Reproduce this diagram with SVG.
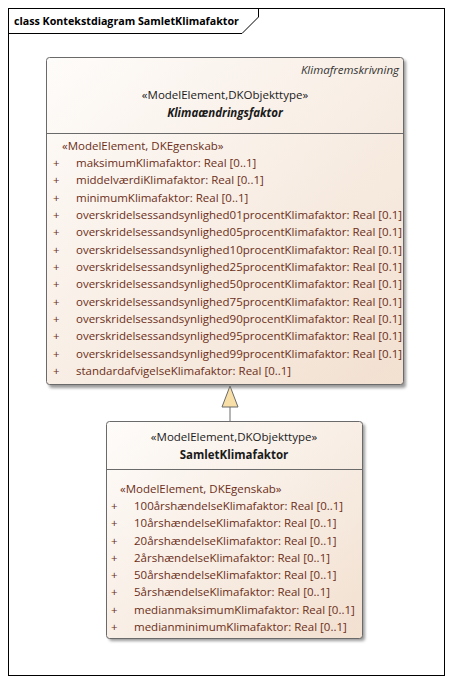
<svg xmlns="http://www.w3.org/2000/svg" width="452" height="684" viewBox="0 0 452 684">
<defs>
<linearGradient id="g" x1="0" y1="0" x2="1" y2="1">
<stop offset="0" stop-color="#fefcfa"/>
<stop offset="1" stop-color="#f2e0d0"/>
</linearGradient>
<filter id="sh" x="-5%" y="-5%" width="115%" height="115%">
<feGaussianBlur stdDeviation="1.5"/>
</filter>
</defs>
<style>
text{font-family:"Open Sans","Liberation Sans",sans-serif;font-size:11.5px}
.t{font-weight:bold;font-size:10.7px;fill:#000}
.h{fill:#1a1a1a;text-anchor:middle}
.a{fill:#6c2e18}
.box{fill:url(#g);stroke:#6a6a6a;stroke-width:1}
.shadow{fill:#9a9a9a;filter:url(#sh)}
</style>
<rect width="452" height="684" fill="#fff"/>
<g id="frame">
<rect x="8.5" y="8.5" width="436" height="667" fill="none" stroke="#000" stroke-width="1"/>
<path d="M8.5 33.5 H242 L258.5 17 V8.5" fill="none" stroke="#000" stroke-width="1"/>
<text class="t" x="14" y="25">class Kontekstdiagram SamletKlimafaktor</text>
</g>
<g id="Klimaendringsfaktor">
<rect class="shadow" x="49" y="60" width="357" height="328" rx="3"/>
<rect class="box" x="46.5" y="57.5" width="357" height="327" rx="3"/>
<line x1="46.5" y1="133.5" x2="403.5" y2="133.5" stroke="#6a6a6a"/>
<text x="399" y="74" style="font-style:italic;text-anchor:end;fill:#333">Klimafremskrivning</text>
<text class="h" x="225" y="99">«ModelElement,DKObjekttype»</text>
<text class="h" x="225" y="117" style="font-weight:bold;font-style:italic">Klimaændringsfaktor</text>
<text class="a" x="62" y="150">«ModelElement, DKEgenskab»</text>
<g class="a">
<text x="53" y="167">+</text><text x="76" y="167">maksimumKlimafaktor: Real [0..1]</text>
<text x="53" y="184">+</text><text x="76" y="184">middelværdiKlimafaktor: Real [0..1]</text>
<text x="53" y="202">+</text><text x="76" y="202">minimumKlimafaktor: Real [0..1]</text>
<text x="53" y="219">+</text><text x="76" y="219" textLength="326" lengthAdjust="spacingAndGlyphs">overskridelsessandsynlighed01procentKlimafaktor: Real [0.1]</text>
<text x="53" y="236">+</text><text x="76" y="236" textLength="326" lengthAdjust="spacingAndGlyphs">overskridelsessandsynlighed05procentKlimafaktor: Real [0.1]</text>
<text x="53" y="254">+</text><text x="76" y="254" textLength="326" lengthAdjust="spacingAndGlyphs">overskridelsessandsynlighed10procentKlimafaktor: Real [0.1]</text>
<text x="53" y="271">+</text><text x="76" y="271" textLength="326" lengthAdjust="spacingAndGlyphs">overskridelsessandsynlighed25procentKlimafaktor: Real [0.1]</text>
<text x="53" y="288">+</text><text x="76" y="288" textLength="326" lengthAdjust="spacingAndGlyphs">overskridelsessandsynlighed50procentKlimafaktor: Real [0.1]</text>
<text x="53" y="306">+</text><text x="76" y="306" textLength="326" lengthAdjust="spacingAndGlyphs">overskridelsessandsynlighed75procentKlimafaktor: Real [0.1]</text>
<text x="53" y="323">+</text><text x="76" y="323" textLength="326" lengthAdjust="spacingAndGlyphs">overskridelsessandsynlighed90procentKlimafaktor: Real [0.1]</text>
<text x="53" y="340">+</text><text x="76" y="340" textLength="326" lengthAdjust="spacingAndGlyphs">overskridelsessandsynlighed95procentKlimafaktor: Real [0.1]</text>
<text x="53" y="358">+</text><text x="76" y="358" textLength="326" lengthAdjust="spacingAndGlyphs">overskridelsessandsynlighed99procentKlimafaktor: Real [0.1]</text>
<text x="53" y="375">+</text><text x="76" y="375">standardafvigelseKlimafaktor: Real [0..1]</text>
</g>
</g>
<g id="SamletKlimafaktor">
<rect class="shadow" x="109" y="424" width="256" height="217" rx="3"/>
<rect class="box" x="106.5" y="421.5" width="256" height="217" rx="3"/>
<line x1="106.5" y1="469.5" x2="362.5" y2="469.5" stroke="#6a6a6a"/>
<text class="h" x="234" y="441">«ModelElement,DKObjekttype»</text>
<text class="h" x="234" y="459" style="font-weight:bold">SamletKlimafaktor</text>
<text class="a" x="120" y="493">«ModelElement, DKEgenskab»</text>
<g class="a">
<text x="111" y="510">+</text><text x="134" y="510">100årshændelseKlimafaktor: Real [0..1]</text>
<text x="111" y="527">+</text><text x="134" y="527">10årshændelseKlimafaktor: Real [0..1]</text>
<text x="111" y="545">+</text><text x="134" y="545">20årshændelseKlimafaktor: Real [0..1]</text>
<text x="111" y="562">+</text><text x="134" y="562">2årshændelseKlimafaktor: Real [0..1]</text>
<text x="111" y="579">+</text><text x="134" y="579">50årshændelseKlimafaktor: Real [0..1]</text>
<text x="111" y="596">+</text><text x="134" y="596">5årshændelseKlimafaktor: Real [0..1]</text>
<text x="111" y="614">+</text><text x="134" y="614">medianmaksimumKlimafaktor: Real [0..1]</text>
<text x="111" y="631">+</text><text x="134" y="631">medianminimumKlimafaktor: Real [0..1]</text>
</g>
</g>
<g id="connectors">
<line x1="230" y1="407" x2="230" y2="421" stroke="#6a6a6a"/>
<polygon points="230,386 238,407 222,407" fill="#f8dfa8" stroke="#6a6a6a"/>
</g>
</svg>
